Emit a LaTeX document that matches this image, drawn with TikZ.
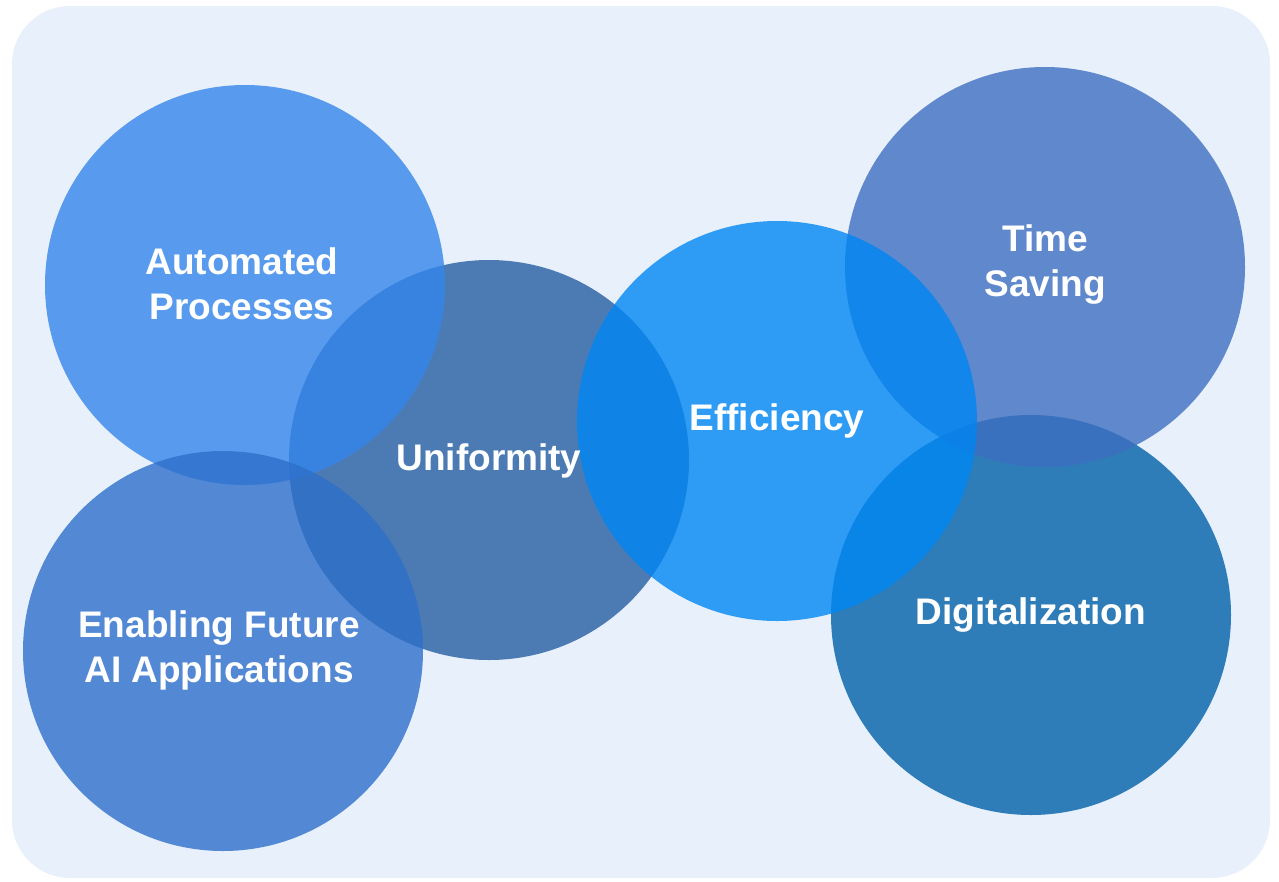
\documentclass[tikz,border=0pt]{standalone}
\usepackage{fontspec}
\setmainfont{Liberation Sans}
\definecolor{bgc}{RGB}{232,240,252}
\definecolor{cU}{RGB}{38,94,161}
\definecolor{cA}{RGB}{52,134,235}
\definecolor{cF}{RGB}{45,111,202}
\definecolor{cD}{RGB}{0,96,168}
\definecolor{cT}{RGB}{62,111,192}
\definecolor{cE}{RGB}{0,134,243}
\begin{document}
\begin{tikzpicture}[x=1pt,y=-1pt,
  bubble/.style={circle,minimum size=400pt,inner sep=0pt,fill opacity=0.8},
  label/.style={text=white,font=\bfseries\fontsize{37}{45}\selectfont,align=center,inner sep=0pt}]
\useasboundingbox (0,0) rectangle (1279,881);
\fill[bgc,rounded corners=58pt] (12,6) rectangle (1270,878);
\node[bubble,fill=cU] (u) at (489,460) {};
\node[bubble,fill=cA] (a) at (245,285) {};
\node[bubble,fill=cF] (f) at (223,651) {};
\node[bubble,fill=cD] (d) at (1031,615) {};
\node[bubble,fill=cT] (t) at (1045,267) {};
\node[bubble,fill=cE] (e) at (777,421) {};
\node[label] (la) at (242,284) {Automated\\Processes};
\node[label] (lu) at (489,461) {Uniformity};
\node[label] (lf) at (219,650) {Enabling Future\\AI Applications};
\node[label] (ld) at (1031,615) {Digitalization};
\node[label] (lt) at (1045,265) {Time\\Saving};
\node[label] (le) at (777,421) {Efficiency};
\end{tikzpicture}
\end{document}
